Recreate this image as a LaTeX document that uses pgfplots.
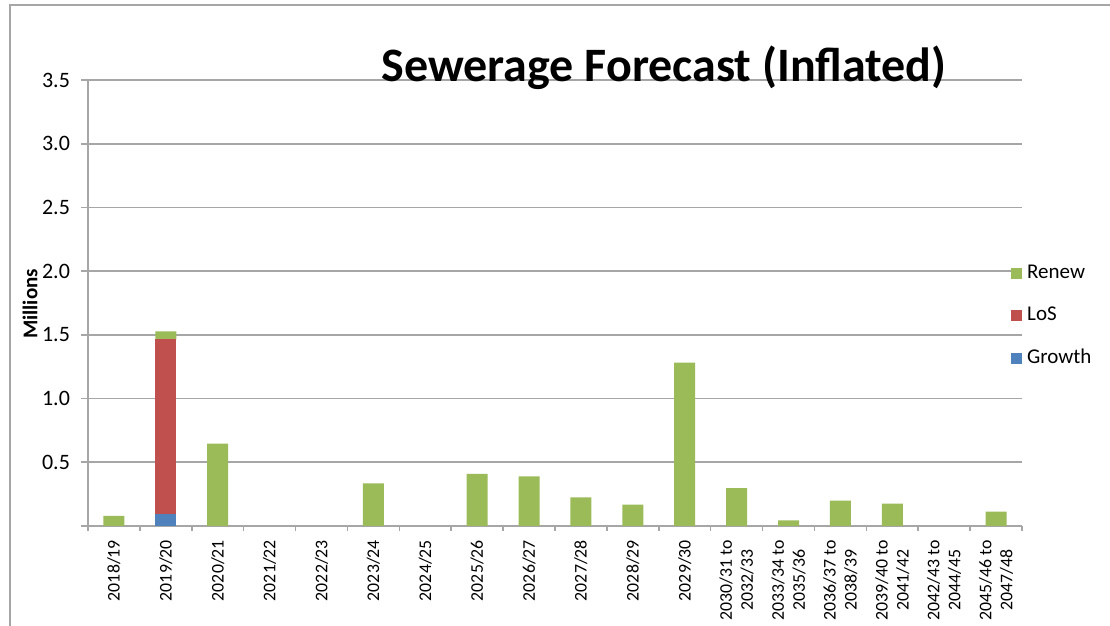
\documentclass[border=0pt]{standalone}
\usepackage{fontspec}
\setmainfont{Carlito}
\usepackage{pgfplots}
\pgfplotsset{compat=1.18}

\definecolor{renew}{RGB}{155,187,89}
\definecolor{los}{RGB}{192,80,77}
\definecolor{growth}{RGB}{79,129,189}
\definecolor{gridgray}{RGB}{166,166,166}

% idx growth los renew
\pgfplotstableread{
x g l r
0 0 0 0.08
1 0.095 1.37 0.063
2 0 0 0.646
3 0 0 0
4 0 0 0
5 0 0 0.335
6 0 0 0
7 0 0 0.41
8 0 0 0.39
9 0 0 0.225
10 0 0 0.168
11 0 0 1.283
12 0 0 0.297
13 0 0 0.045
14 0 0 0.2
15 0 0 0.176
16 0 0 0
17 0 0 0.113
}\sewer

\begin{document}
\begin{tikzpicture}
\useasboundingbox (-44pt,-50pt) rectangle (511pt,263pt);
\draw[gridgray, line width=0.8pt] (-39pt,-60pt) -- (-39pt,260.5pt) -- (530pt,260.5pt);

\begin{axis}[
    at={(0,0)}, anchor=south west,
    width=467pt, height=223pt, scale only axis,
    ybar stacked, bar width=10.5pt,
    xmin=-0.5, xmax=17.5,
    ymin=0, ymax=3.5,
    axis lines*=left,
    axis line style={gridgray, line width=0.8pt},
    ymajorgrids, grid style={gridgray, line width=0.8pt},
    tick align=outside, tick pos=left,
    major tick length=3.5pt,
    every tick/.style={gridgray, line width=0.8pt},
    ytick={0,0.5,...,3.5},
    yticklabels={,0.5,1.0,1.5,2.0,2.5,3.0,3.5},
    xtick={0,...,17},
    major x tick style={draw=none},
    minor xtick={-0.5,0.5,...,17.5},
    minor tick length=2.5pt,
    xticklabels={2018/19,2019/20,2020/21,2021/22,2022/23,2023/24,2024/25,2025/26,2026/27,2027/28,2028/29,2029/30,
      {2030/31 to\\2032/33},{2033/34 to\\2035/36},{2036/37 to\\2038/39},{2039/40 to\\2041/42},{2042/43 to\\2044/45},{2045/46 to\\2047/48}},
    y tick label style={font=\fontsize{11}{13}\selectfont, black, xshift=-2pt},
    x tick label style={font=\fontsize{8.9}{10.5}\selectfont, black, rotate=90, anchor=east, align=center},
    reverse legend,
    legend cell align=left,
    legend style={draw=none, fill=none, at={(0.988,0.471)}, anchor=west,
      inner sep=0pt, row sep=8.8pt, font=\fontsize{10.5}{12}\selectfont,
      nodes={inner xsep=2.5pt}},
    legend image code/.code={\fill[#1] (0pt,-2.75pt) rectangle (5.5pt,2.75pt);},
]
\addplot[fill=growth, draw=none] table[x=x, y=g] {\sewer};
\addlegendentry{Growth}
\addplot[fill=los, draw=none] table[x=x, y=l] {\sewer};
\addlegendentry{LoS}
\addplot[fill=renew, draw=none] table[x=x, y=r] {\sewer};
\addlegendentry{Renew}
\end{axis}

\node[anchor=base, font=\fontsize{24}{27}\selectfont\bfseries] at (288pt,222pt) {Sewerage Forecast (Inflated)};
\node[rotate=90, font=\fontsize{10.5}{12}\selectfont\bfseries] at (-29pt,111pt) {Millions};
\end{tikzpicture}
\end{document}
